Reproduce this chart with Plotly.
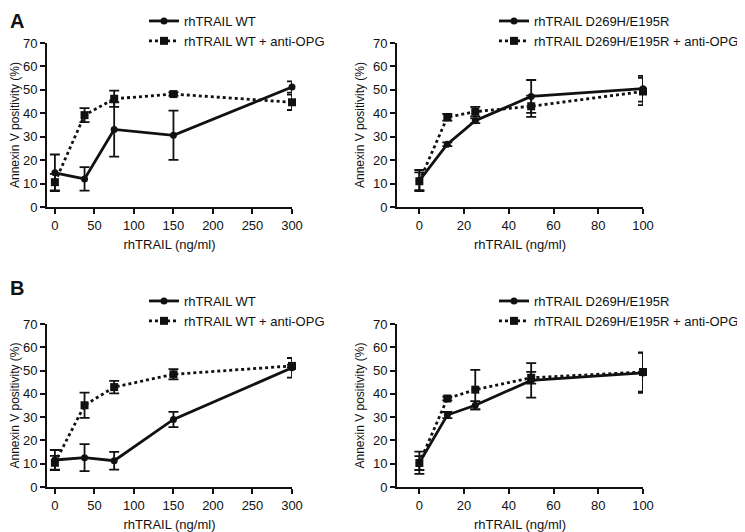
import plotly.graph_objects as go

# The page body has an 8px margin, so the figure is sized to fill the rest of the window
OFF = 8
W, H = 745 - OFF, 532 - OFF

# ---------------- data ----------------
x_wt = [0, 37.5, 75, 150, 300]
x_mut = [0, 12.5, 25, 50, 100]

# Panel A
a_wt = [14.6, 12.0, 33.1, 30.6, 51.2]
a_wt_err = [7.8, 5.0, 11.6, 10.5, 2.4]
a_wt_opg = [10.6, 39.2, 46.2, 48.2, 44.7]
a_wt_opg_err = [3.5, 3.0, 3.5, 0.8, 3.3]

a_mut = [11.3, 26.8, 36.8, 47.2, 50.5]
a_mut_err = [4.5, 0.8, 1.0, 7.0, 5.5]
a_mut_opg = [11.0, 38.3, 40.7, 43.0, 49.3]
a_mut_opg_err = [3.8, 1.4, 2.0, 4.5, 5.8]

# Panel B
b_wt = [11.6, 12.6, 11.3, 29.0, 51.2]
b_wt_err = [4.3, 5.8, 3.8, 3.3, 4.2]
b_wt_opg = [10.4, 35.1, 42.9, 48.4, 52.0]
b_wt_opg_err = [3.0, 5.4, 2.7, 2.2, 0.5]

b_mut = [10.4, 30.9, 35.1, 45.8, 49.0]
b_mut_err = [4.8, 1.3, 1.8, 7.4, 8.6]
b_mut_opg = [10.3, 38.0, 41.8, 46.9, 49.4]
b_mut_opg_err = [3.0, 0.8, 8.5, 2.5, 8.4]

lab_wt = "rhTRAIL WT"
lab_wt_opg = "rhTRAIL WT + anti-OPG"
lab_mut = "rhTRAIL D269H/E195R"
lab_mut_opg = "rhTRAIL D269H/E195R + anti-OPG"

y_ticks = [0, 10, 20, 30, 40, 50, 60, 70]
x_ticks_wt = [0, 50, 100, 150, 200, 250, 300]
x_ticks_mut = [0, 20, 40, 60, 80, 100]

x_title = "rhTRAIL (ng/ml)"
y_title = "Annexin V positivity (%)"

# ---------------- layout helpers (window pixel -> paper fraction) ----------------
def px_x(p):
    return (p - OFF) / W

def px_y(p):
    return 1 - (p - OFF) / H

FONT = "Liberation Sans, Arial, sans-serif"
INK = "#111111"

fig = go.Figure()

def add_pair(xs, y1, e1, y2, e2, l1, l2, xa, ya, leg):
    fig.add_trace(go.Scatter(
        x=xs, y=y1, name=l1, mode="lines+markers",
        line=dict(color=INK, width=2.8),
        marker=dict(symbol="circle", size=7, color=INK),
        error_y=dict(type="data", array=e1, visible=True, color=INK, thickness=1.8, width=5),
        xaxis=xa, yaxis=ya, legend=leg, cliponaxis=False))
    fig.add_trace(go.Scatter(
        x=xs, y=y2, name=l2, mode="lines+markers",
        line=dict(color=INK, width=2.8, dash="dot"),
        marker=dict(symbol="square", size=8, color=INK),
        error_y=dict(type="data", array=e2, visible=True, color=INK, thickness=1.8, width=5),
        xaxis=xa, yaxis=ya, legend=leg, cliponaxis=False))

add_pair(x_wt, a_wt, a_wt_err, a_wt_opg, a_wt_opg_err, lab_wt, lab_wt_opg, "x", "y", "legend")
add_pair(x_mut, a_mut, a_mut_err, a_mut_opg, a_mut_opg_err, lab_mut, lab_mut_opg, "x2", "y2", "legend2")
add_pair(x_wt, b_wt, b_wt_err, b_wt_opg, b_wt_opg_err, lab_wt, lab_wt_opg, "x3", "y3", "legend3")
add_pair(x_mut, b_mut, b_mut_err, b_mut_opg, b_mut_opg_err, lab_mut, lab_mut_opg, "x4", "y4", "legend4")

xdom_left = [px_x(47), px_x(292)]
xdom_right = [px_x(397), px_x(643)]
ydom_a = [px_y(207), px_y(43)]
ydom_b = [px_y(487), px_y(324)]

axis_common = dict(
    showline=True, linecolor=INK, linewidth=2, ticks="outside", ticklen=5,
    tickwidth=2, tickcolor=INK, showgrid=False, zeroline=False, automargin=False,
    tickfont=dict(family=FONT, size=13, color=INK),
)

def xaxis(dom, rng, ticks, anchor):
    return dict(domain=dom, range=rng, tickvals=ticks, anchor=anchor,
                title=dict(text=x_title, standoff=8,
                           font=dict(family=FONT, size=13, color=INK)),
                **axis_common)

def yaxis(dom, anchor):
    return dict(domain=dom, range=[0, 70], tickvals=y_ticks, anchor=anchor,
                title=dict(text=y_title, standoff=6,
                           font=dict(family=FONT, size=12, color=INK)),
                **axis_common)

def legend(xp, yp):
    return dict(x=px_x(xp), y=px_y(yp), xanchor="left", yanchor="top",
                bgcolor="rgba(0,0,0,0)", borderwidth=0,
                font=dict(family=FONT, size=13, color=INK),
                itemwidth=30, tracegroupgap=0)

fig.update_layout(
    width=W, height=H,
    margin=dict(l=0, r=0, t=0, b=0, autoexpand=False),
    paper_bgcolor="white", plot_bgcolor="white",
    xaxis=xaxis(xdom_left, [-10, 300], x_ticks_wt, "y"),
    yaxis=yaxis(ydom_a, "x"),
    xaxis2=xaxis(xdom_right, [-10, 100], x_ticks_mut, "y2"),
    yaxis2=yaxis(ydom_a, "x2"),
    xaxis3=xaxis(xdom_left, [-10, 300], x_ticks_wt, "y3"),
    yaxis3=yaxis(ydom_b, "x3"),
    xaxis4=xaxis(xdom_right, [-10, 100], x_ticks_mut, "y4"),
    yaxis4=yaxis(ydom_b, "x4"),
    legend=legend(144, 6),
    legend2=legend(494, 6),
    legend3=legend(144, 286),
    legend4=legend(494, 286),
    showlegend=True,
    annotations=[
        dict(text="<b>A</b>", x=0, y=px_y(8), xref="paper", yref="paper",
             xanchor="left", yanchor="top", showarrow=False,
             font=dict(family=FONT, size=20, color=INK)),
        dict(text="<b>B</b>", x=0, y=px_y(275), xref="paper", yref="paper",
             xanchor="left", yanchor="top", showarrow=False,
             font=dict(family=FONT, size=20, color=INK)),
    ],
)

fig.write_html("out.html")
